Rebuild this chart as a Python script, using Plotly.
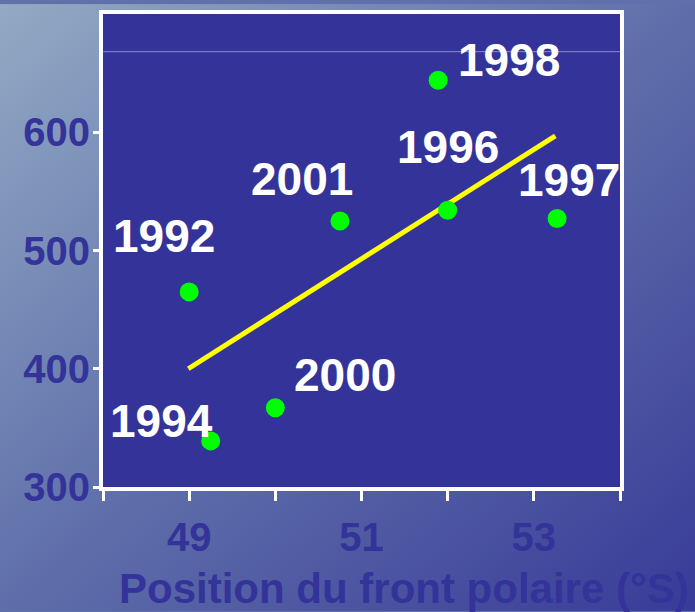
import base64
import plotly.graph_objects as go

# year labels and positions of the polar front (deg S) vs. values
years = ["1992", "1994", "2000", "2001", "1998", "1996", "1997"]
front_pos = [49.0, 49.25, 50.0, 50.75, 51.89, 52.0, 53.27]
values = [465, 339, 367, 525, 644, 534, 527]

# regression line end points
fit_x = [48.99, 53.25]
fit_y = [400, 597]

x_ticks = [48, 49, 50, 51, 52, 53, 54]
x_ticktext = ["", "49", "", "51", "", "53", ""]
y_ticks = [300, 400, 500, 600]

W, H = 695, 612
L, R, T, B = 103, 75, 10, 125
pw, ph = W - L - R, H - T - B

# label offsets (pixels) relative to each point
label_shift = {
    "1992": (-25, 56), "1994": (-49, 20), "2000": (70, 33), "2001": (-38, 42),
    "1998": (71, 20), "1996": (0, 63), "1997": (12, 39),
}

svg = ('<svg xmlns="http://www.w3.org/2000/svg" width="695" height="612">'
       '<defs><linearGradient id="g" x1="0" y1="0" x2="1" y2="1">'
       '<stop offset="0" stop-color="#92aac4"/>'
       '<stop offset="0.5" stop-color="#5f6eaa"/>'
       '<stop offset="1" stop-color="#383b98"/>'
       '</linearGradient></defs>'
       '<rect width="695" height="612" fill="url(#g)"/></svg>')
bg_src = "data:image/svg+xml;base64," + base64.b64encode(svg.encode()).decode()

fig = go.Figure()

fig.add_trace(go.Scatter(x=fit_x, y=fit_y, mode="lines",
                         line=dict(color="#ffff00", width=5), hoverinfo="skip"))
fig.add_trace(go.Scatter(x=front_pos, y=values, mode="markers",
                         marker=dict(color="#00ff00", size=19), text=years))

for yr, xv, yv in zip(years, front_pos, values):
    dx, dy = label_shift[yr]
    fig.add_annotation(x=xv, y=yv, text=yr, showarrow=False, xshift=dx, yshift=dy,
                       font=dict(family="Liberation Sans, Arial", size=46,
                                 color="white", weight="bold"))

fig.add_annotation(xref="paper", yref="paper", x=(117 - L) / pw, y=-(564 - 487) / ph,
                   xanchor="left", yanchor="top", showarrow=False,
                   text="Position du front polaire (°S)",
                   font=dict(family="Liberation Sans, Arial", size=42,
                             color="#333399", weight="bold"))

fig.add_layout_image(source=bg_src, xref="paper", yref="paper",
                     x=-L / pw, y=1 + T / ph, sizex=W / pw, sizey=H / ph,
                     xanchor="left", yanchor="top", sizing="stretch", layer="below")
fig.add_shape(type="rect", xref="paper", yref="paper", x0=0, x1=1, y0=0, y1=1,
              fillcolor="#333399", line=dict(width=0), layer="below")
fig.add_shape(type="line", xref="paper", yref="paper", x0=0, x1=1,
              y0=(487 - 48) / ph, y1=(487 - 48) / ph,
              line=dict(color="#8c8cd0", width=1), layer="below")

fig.update_layout(
    width=W, height=H,
    margin=dict(l=L, r=R, t=T, b=B),
    showlegend=False,
    paper_bgcolor="#6070aa",
    plot_bgcolor="rgba(0,0,0,0)",
    font=dict(family="Liberation Sans, Arial", color="#333399"),
)
fig.update_xaxes(range=[48, 54], tickvals=x_ticks, ticktext=x_ticktext,
                 showgrid=False, zeroline=False, showline=True, mirror=True,
                 linecolor="white", linewidth=4, ticks="outside", ticklen=10,
                 tickwidth=3, tickcolor="white", ticklabelstandoff=2,
                 tickfont=dict(size=40, color="#333399", weight="bold"))
fig.update_yaxes(range=[300, 700], tickvals=y_ticks,
                 showgrid=False, zeroline=False, showline=True, mirror=True,
                 linecolor="white", linewidth=4, ticks="outside", ticklen=6,
                 tickwidth=3, tickcolor="white", ticklabelstandoff=-5,
                 tickfont=dict(size=40, color="#333399", weight="bold"))

# drop the page's default body margin so the figure sits at the window corner
fig.write_html("out.html", config={"displayModeBar": False},
               post_script="document.body.style.margin='0';")
